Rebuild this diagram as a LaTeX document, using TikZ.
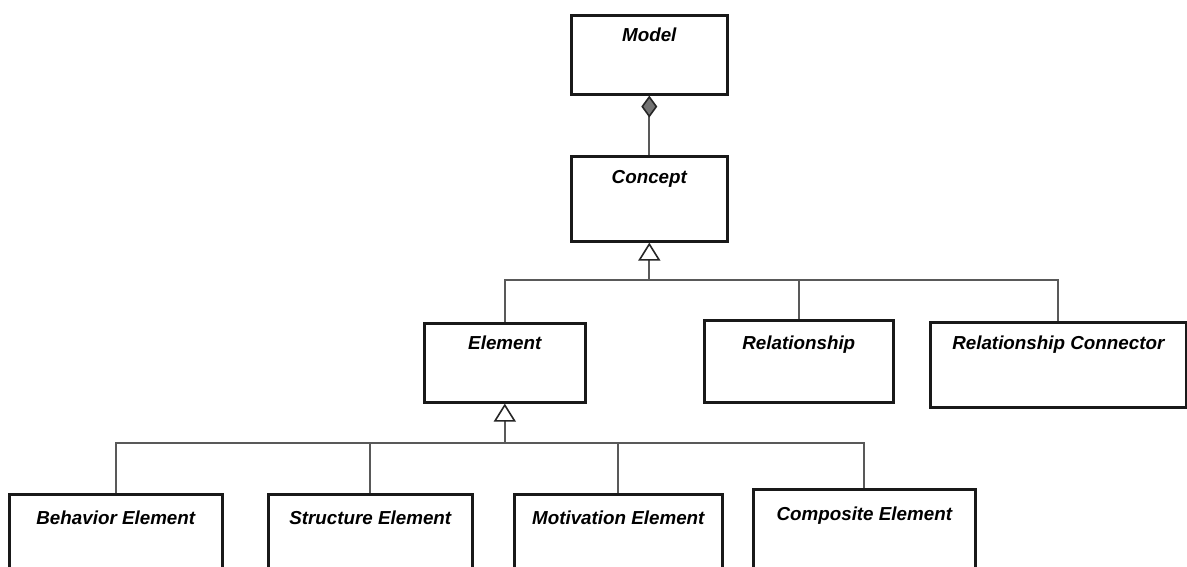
\documentclass[tikz,border=0pt]{standalone}
\usepackage{fontspec}
\setmainfont{Liberation Sans}
\usetikzlibrary{arrows.meta}
\tikzset{
  umlbox/.style={draw=black!90, line width=2.6pt, fill=white, inner sep=0pt, anchor=north west},
  umlname/.style={font=\fontsize{18.8}{22}\selectfont\bfseries\itshape, anchor=base, inner sep=0pt},
  conn/.style={draw=black!65, line width=1.8pt},
  gen/.style={conn, -{Triangle[open, length=18pt, width=22pt, line width=1.6pt, color=black!85]}},
  comp/.style={conn, -{Diamond[length=22pt, width=16pt, fill=black!55, line width=1.6pt, color=black!85]}},
}
\begin{document}
\begin{tikzpicture}[x=1pt, y=-1pt]
  \useasboundingbox (0,0) rectangle (1187,567);
  \clip (0,0) rectangle (1187,567);
  \fill[white] (0,0) rectangle (1187,567);

  % classes
  \node[umlbox, minimum width=156pt, minimum height=79pt] (model)   at (570,14)  {};
  \node[umlbox, minimum width=156pt, minimum height=85pt] (concept) at (570,155) {};
  \node[umlbox, minimum width=161pt, minimum height=79pt] (element) at (423,322) {};
  \node[umlbox, minimum width=189pt, minimum height=82pt] (rel)     at (703,319) {};
  \node[umlbox, minimum width=256pt, minimum height=85pt] (relc)    at (929,321) {};
  \node[umlbox, minimum width=213pt, minimum height=110pt] (beh)    at (8,493)   {};
  \node[umlbox, minimum width=204pt, minimum height=110pt] (str)    at (267,493) {};
  \node[umlbox, minimum width=208pt, minimum height=110pt] (mot)    at (513,493) {};
  \node[umlbox, minimum width=222pt, minimum height=110pt] (cmp)    at (752,488) {};

  % class names
  \node[umlname] (modelT)   at ([yshift=-28pt]model.north)   {Model};
  \node[umlname] (conceptT) at ([yshift=-29pt]concept.north) {Concept};
  \node[umlname] (elementT) at ([yshift=-27pt]element.north) {Element};
  \node[umlname] (relT)     at ([yshift=-30pt]rel.north)     {Relationship};
  \node[umlname] (relcT)    at ([yshift=-28pt]relc.north)    {Relationship Connector};
  \node[umlname] (behT)     at ([yshift=-31pt]beh.north)     {Behavior Element};
  \node[umlname] (strT)     at ([yshift=-31pt]str.north)     {Structure Element};
  \node[umlname] (motT)     at ([yshift=-31pt]mot.north)     {Motivation Element};
  \node[umlname] (cmpT)     at ([yshift=-32pt]cmp.north)     {Composite Element};

  % junction points of the generalisation trees
  \coordinate (bus1) at (concept.south |- 0,280);
  \coordinate (bus2) at (element.south |- 0,443);

  % composition
  \draw[comp] (concept.north) -- (model.south);

  % Concept specialisations
  \draw[gen] (bus1) -- (concept.south);
  \draw[conn] (element.north) |- (bus1) -| (relc.north);
  \draw[conn] (rel.north) -- (rel.north |- bus1);

  % Element specialisations
  \draw[gen] (bus2) -- (element.south);
  \draw[conn] (beh.north) |- (bus2) -| (cmp.north);
  \draw[conn] (str.north) -- (str.north |- bus2);
  \draw[conn] (mot.north) -- (mot.north |- bus2);
\end{tikzpicture}
\end{document}
